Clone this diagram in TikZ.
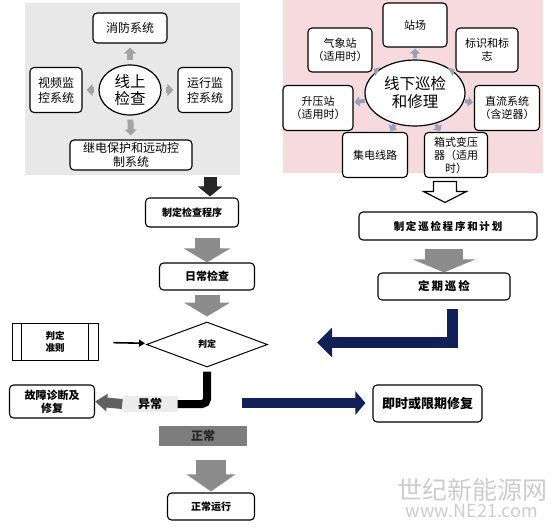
\documentclass[tikz,border=0pt]{standalone}
\usepackage{fontspec}
\setmainfont{Noto Sans CJK SC}
\usetikzlibrary{arrows.meta,positioning,shapes.geometric,calc}
\definecolor{panelgray}{RGB}{232,232,232}
\definecolor{panelpink}{RGB}{246,218,222}
\definecolor{arrowgray}{RGB}{140,140,140}
\definecolor{navyblue}{RGB}{18,32,88}
\definecolor{tipblue}{RGB}{150,158,185}
\definecolor{bargray}{RGB}{125,125,125}

\begin{document}
\begin{tikzpicture}[x=1pt,y=-1pt,
    box/.style={draw,rounded corners=4pt,line width=1.1pt,fill=white,align=center,inner sep=1pt,font=\fontsize{11}{13}\selectfont},
    flowbox/.style={box,font=\fontsize{10}{12}\selectfont\bfseries},
    smallarr/.style={arrowgray!80,line width=6pt,-{Triangle[length=6pt,width=12pt]},shorten <=4pt,shorten >=4pt},
    tiparr/.style={tipblue,line width=4pt,-{Triangle[length=5pt,width=10pt]},shorten <=1pt,shorten >=1pt},
    grayarr/.style={arrowgray,line width=25pt,-{Triangle[length=14pt,width=46pt]}}]
  \useasboundingbox (0,0) rectangle (554,530);
  % online check panel
  \node[fill=panelgray,minimum width=215,minimum height=172,inner sep=0] (onpanel) at (132.5,89) {};
  \node[ellipse,draw,line width=1.2pt,fill=white,minimum width=62,minimum height=50,inner sep=0,align=center,font=\fontsize{15.5}{17}\selectfont] (online) at (130,90) {线上\\检查};
  \node[box,minimum width=74,minimum height=30,font=\fontsize{12}{14}\selectfont] (fire) at (130,28) {消防系统};
  \node[box,minimum width=52,minimum height=45,font=\fontsize{12}{15}\selectfont] (video) at (56,90) {视频监\\控系统};
  \node[box,minimum width=54,minimum height=45,font=\fontsize{12}{15}\selectfont] (runmon) at (205,90) {运行监\\控系统};
  \node[box,minimum width=122,minimum height=30,font=\fontsize{12}{14}\selectfont] (relay) at (131,155) {继电保护和远动控\\制系统};
  \foreach \t in {fire,video,runmon,relay}
    \draw[smallarr] (online) -- (\t);
  % offline patrol panel
  \node[fill=panelpink,minimum width=260,minimum height=173,inner sep=0] (offpanel) at (413,86.5) {};
  \node[ellipse,draw,line width=1.2pt,fill=white,minimum width=100,minimum height=66,inner sep=0,align=center,font=\fontsize{15.5}{18}\selectfont] (offline) at (415,93) {线下巡检\\和修理};
  \node[box,minimum width=64,minimum height=44] (yard) at (415,25) {站场};
  \node[box,minimum width=64,minimum height=44] (weather) at (340,50) {气象站\\（适用时）};
  \node[box,minimum width=62,minimum height=44] (sign) at (487,50) {标识和标\\志};
  \node[box,minimum width=70,minimum height=45] (boost) at (318,108) {升压站\\（适用时）};
  \node[box,minimum width=65,minimum height=45] (dcsys) at (507,108) {直流系统\\（含逆器）};
  \node[box,minimum width=65,minimum height=45] (collect) at (375,155) {集电线路};
  \node[box,minimum width=63,minimum height=45] (boxtr) at (456,155) {箱式变压\\器（适用\\时）};
  \foreach \t in {yard,weather,sign,boost,dcsys,collect,boxtr}
    \draw[tiparr] (offline) -- (\t);
  % left flow
  \node[flowbox,minimum width=93,minimum height=29] (plancheck) at (192,212.5) {制定检查程序};
  \node[flowbox,minimum width=95,minimum height=27,font=\fontsize{11}{13}\selectfont\bfseries] (daily) at (207,276.5) {日常检查};
  \node[diamond,draw,line width=1pt,aspect=2.7,minimum width=121,minimum height=45,inner sep=0,font=\fontsize{9}{11}\selectfont\bfseries] (judge) at (207,344.5) {判定};
  \node[draw,line width=0.9pt,minimum width=86,minimum height=37,align=center,font=\fontsize{9.5}{12}\selectfont\bfseries] (rule) at (55,341.5) {判定\\准则};
  \draw[line width=0.9pt] ([xshift=10]rule.north west) -- ([xshift=10]rule.south west)
    ([xshift=-10]rule.north east) -- ([xshift=-10]rule.south east);
  \coordinate (darktip) at ([xshift=18]plancheck.north);
  \draw[black!85,line width=13pt,-{Triangle[length=10pt,width=24pt]},shorten <=2pt,shorten >=1pt] (darktip |- onpanel.south) -- (darktip);
  \draw[grayarr,shorten <=10pt] (daily.north |- plancheck.south) -- (daily.north);
  \draw[grayarr,shorten <=4pt,shorten >=5pt] (daily.south) -- (judge.north);
  \draw[line width=1.6pt,-{Triangle[length=6pt,width=7pt]},shorten <=15pt,shorten >=4pt] (rule) -- (judge);
  % right flow
  \node[flowbox,minimum width=178,minimum height=28,font=\fontsize{10.5}{12}\selectfont\bfseries] (planpatrol) at (448,226) {制\,定\,巡\,检\,程\,序\,和\,计\,划};
  \node[flowbox,minimum width=132,minimum height=27,font=\fontsize{11.5}{13}\selectfont\bfseries] (patrol) at (444,286.5) {定\,期\,巡\,检};
  \coordinate (hollowtip) at ($(planpatrol.north)+(-3,-9)$);
  \draw[line width=1.2pt,fill=white] (hollowtip) -- ++(21.5,-11) -- ++(-10,0) -- ++(0,-10) -- ++(-23,0) -- ++(0,10) -- ++(-10,0) -- cycle;
  \draw[arrowgray,line width=38pt,-{Triangle[length=13pt,width=62pt]},shorten <=8pt] (planpatrol.south -| patrol.north) -- (patrol.north);
  \draw[navyblue,line width=11pt,-{Triangle[length=15pt,width=29pt]},shorten <=8pt,shorten >=49pt] ([xshift=8]patrol.south) |- ([yshift=2]judge.east);
  % outcome
  \node[fill=gray!15,minimum width=55,minimum height=16,inner sep=0,font=\fontsize{12}{13}\selectfont\bfseries] (abnormal) at (150,404) {异常};
  \node[flowbox,minimum width=85,minimum height=33,font=\fontsize{11}{13}\selectfont\bfseries] (fault) at (52,401.5) {故障诊断及\\修复};
  \draw[line width=8pt,rounded corners=5pt,shorten <=4pt] (judge.south) |- (abnormal.east);
  \draw[gray!75!black,line width=10pt,-{Triangle[length=12pt,width=17pt]}] (abnormal.west) -- (fault.east);
  \node[flowbox,minimum width=109,minimum height=37,font=\fontsize{13}{15}\selectfont\bfseries] (repair) at (427.5,403.5) {即时或限期修复};
  \coordinate (navystart) at (242,403);
  \draw[navyblue,line width=10pt,-{Triangle[length=10pt,width=23pt]},shorten >=7pt] (navystart) -- (repair.west |- navystart);
  \node[fill=bargray,minimum width=88,minimum height=20,inner sep=0,font=\fontsize{12}{13}\selectfont\bfseries,text=black!85] (normal) at (203,436) {正常};
  \node[flowbox,minimum width=87,minimum height=27] (normalrun) at (211,506.5) {正常运行};
  \draw[arrowgray,line width=30pt,-{Triangle[length=17pt,width=48pt]},shorten <=14pt,shorten >=1pt] (normalrun.north |- normal.south) -- (normalrun.north);
  % watermark
  \node[text=gray!40,font=\fontsize{25}{27}\selectfont,inner sep=0] (wmname) at (472,490) {世纪新能源网};
  \node[text=gray!40,font=\fontsize{18}{20}\selectfont,inner sep=0,below=2pt of wmname] (wmurl) {www.NE21.com};
\end{tikzpicture}
\end{document}
